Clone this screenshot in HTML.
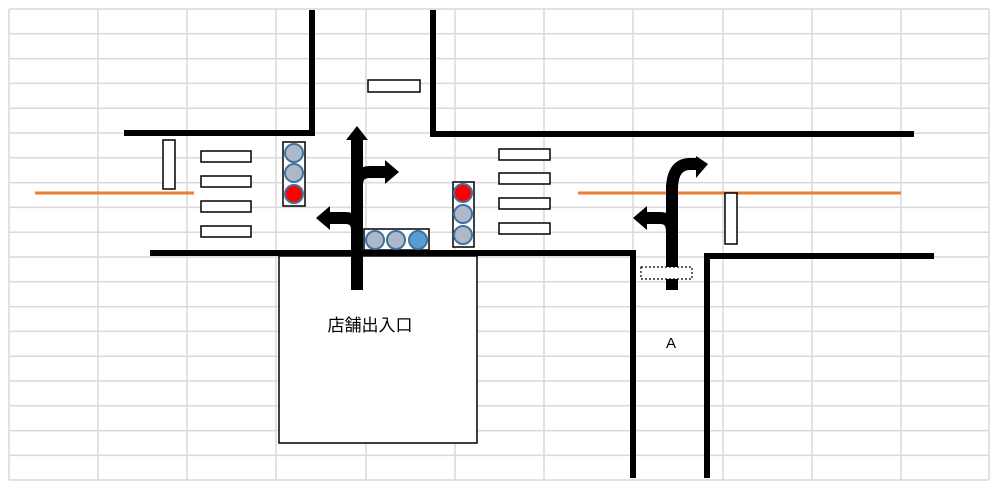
<!DOCTYPE html>
<html><head><meta charset="utf-8"><style>body{margin:0;background:#fff}svg{display:block}</style></head><body>
<svg width="999" height="489" viewBox="0 0 999 489" xmlns="http://www.w3.org/2000/svg">
<rect width="999" height="489" fill="#fff"/>
<g stroke="#d9d9d9" stroke-width="1.5">
<line x1="9" y1="9" x2="9" y2="480"/><line x1="98" y1="9" x2="98" y2="480"/><line x1="187" y1="9" x2="187" y2="480"/><line x1="276" y1="9" x2="276" y2="480"/><line x1="366" y1="9" x2="366" y2="480"/><line x1="455" y1="9" x2="455" y2="480"/><line x1="544" y1="9" x2="544" y2="480"/><line x1="633" y1="9" x2="633" y2="480"/><line x1="723" y1="9" x2="723" y2="480"/><line x1="812" y1="9" x2="812" y2="480"/><line x1="901" y1="9" x2="901" y2="480"/><line x1="989" y1="9" x2="989" y2="480"/>
<line x1="9" y1="9" x2="989" y2="9"/><line x1="9" y1="33.8" x2="989" y2="33.8"/><line x1="9" y1="58.6" x2="989" y2="58.6"/><line x1="9" y1="83.4" x2="989" y2="83.4"/><line x1="9" y1="108.2" x2="989" y2="108.2"/><line x1="9" y1="133" x2="989" y2="133"/><line x1="9" y1="157.8" x2="989" y2="157.8"/><line x1="9" y1="182.6" x2="989" y2="182.6"/><line x1="9" y1="207.4" x2="989" y2="207.4"/><line x1="9" y1="232.2" x2="989" y2="232.2"/><line x1="9" y1="257" x2="989" y2="257"/><line x1="9" y1="281.8" x2="989" y2="281.8"/><line x1="9" y1="306.6" x2="989" y2="306.6"/><line x1="9" y1="331.4" x2="989" y2="331.4"/><line x1="9" y1="356.2" x2="989" y2="356.2"/><line x1="9" y1="381" x2="989" y2="381"/><line x1="9" y1="405.8" x2="989" y2="405.8"/><line x1="9" y1="430.6" x2="989" y2="430.6"/><line x1="9" y1="455.4" x2="989" y2="455.4"/><line x1="9" y1="480" x2="989" y2="480"/>
</g>
<!-- store -->
<rect x="279" y="256" width="198" height="187" fill="#fff" stroke="#000" stroke-width="1.5"/>
<text x="370" y="331" font-family="Liberation Sans, Noto Sans CJK JP, sans-serif" font-size="17" text-anchor="middle">店舗出入口</text>
<text x="671" y="348" font-family="Liberation Sans, sans-serif" font-size="15" text-anchor="middle">A</text>
<!-- roads -->
<g stroke="#000" stroke-width="6" fill="none">
<polyline points="312,10 312,133 124,133"/>
<polyline points="433,10 433,134 914,134"/>
<polyline points="150,253 636,253 633,253 633,478"/>
<polyline points="934,256 707,256 707,478"/>
</g>
<!-- orange -->
<g stroke="#ed7d31" stroke-width="3"><line x1="35" y1="193" x2="194" y2="193"/><line x1="578" y1="193" x2="901" y2="193"/></g>
<!-- crosswalks -->
<g fill="#fff" stroke="#000" stroke-width="1.5">
<rect x="201" y="151" width="50" height="11"/><rect x="201" y="176" width="50" height="11"/><rect x="201" y="201" width="50" height="11"/><rect x="201" y="226" width="50" height="11"/>
<rect x="499" y="149" width="51" height="11"/><rect x="499" y="173" width="51" height="11"/><rect x="499" y="198" width="51" height="11"/><rect x="499" y="223" width="51" height="11"/>
<rect x="368" y="80" width="52" height="12"/>
<rect x="163" y="140" width="12" height="49"/><rect x="725" y="193" width="12" height="51"/>
<rect x="283" y="142" width="22" height="64"/><rect x="453" y="182" width="21" height="65"/><rect x="364" y="229" width="65" height="21"/>
</g>
<g stroke="#41719c" stroke-width="2">
<circle cx="294" cy="153" r="9" fill="#adb9ca"/><circle cx="294" cy="173" r="9" fill="#adb9ca"/><circle cx="294" cy="194" r="9" fill="#ff0000"/>
<circle cx="463" cy="193" r="9" fill="#ff0000"/><circle cx="463" cy="214" r="9" fill="#adb9ca"/><circle cx="463" cy="235" r="9" fill="#adb9ca"/>
<circle cx="375" cy="240" r="9" fill="#adb9ca"/><circle cx="396" cy="240" r="9" fill="#adb9ca"/><circle cx="418" cy="240" r="9" fill="#5b9bd5"/>
</g>
<!-- arrows -->
<g fill="none" stroke="#000" stroke-width="12">
<line x1="357" y1="290" x2="357" y2="140"/>
<path d="M357,185 Q357,172 370,172 L386,172"/>
<path d="M357,230 Q357,218 345,218 L328,218"/>
<line x1="672" y1="290" x2="672" y2="185"/>
<path d="M672,190 Q672,164 690,164 L697,164"/>
<path d="M672,232 Q672,218 660,218 L645,218"/>
</g>
<g fill="#000">
<polygon points="346,140 368,140 357,126"/>
<polygon points="385,160 399,172 385,184"/>
<polygon points="330,206 316,218 330,230"/>
<polygon points="696,156 708,164 696,178"/>
<polygon points="647,206 633,218 647,230"/>
</g>
<rect x="641" y="267" width="51" height="12" fill="#fff" stroke="#000" stroke-width="1.2" stroke-dasharray="2,2"/>
</svg>
</body></html>
